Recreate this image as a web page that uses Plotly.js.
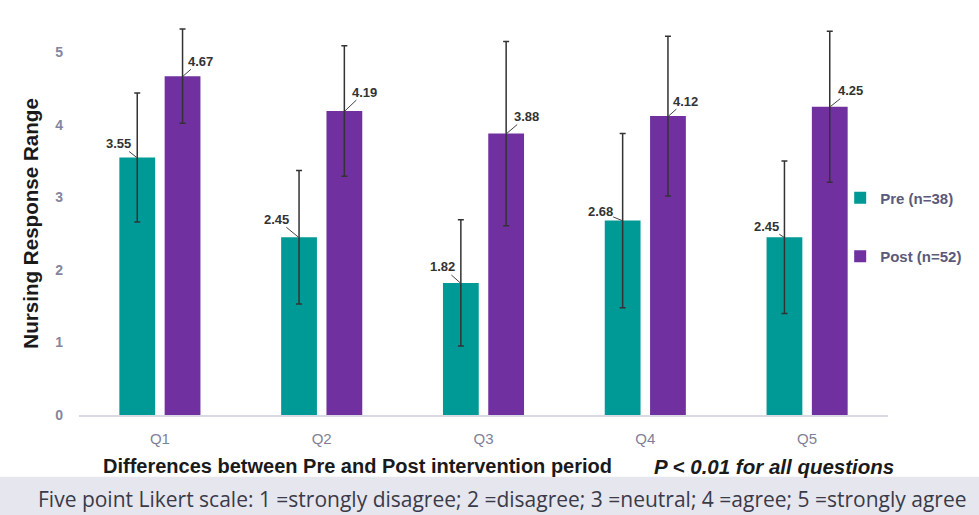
<!DOCTYPE html>
<html><head><meta charset="utf-8">
<script src="https://cdn.plot.ly/plotly-3.0.1.min.js"></script>
<style>html,body{margin:0;padding:0;background:#fff;}#chart{width:979px;height:515px;}</style>
</head><body><div id="chart"></div>
<script>
const categories = ['Q1','Q2','Q3','Q4','Q5'];
const preName = 'Pre (n=38)';
const postName = 'Post (n=52)';
const preValues = [3.55, 2.45, 1.82, 2.68, 2.45];
const postValues = [4.67, 4.19, 3.88, 4.12, 4.25];
const preErrors = [0.89, 0.92, 0.87, 1.20, 1.05];
const postErrors = [0.65, 0.90, 1.27, 1.10, 1.04];
const yTicks = [0, 1, 2, 3, 4, 5];
const xTitle = 'Differences between Pre and Post intervention period';
const pNote = 'P < 0.01 for all questions';
const footNote = 'Five point Likert scale: 1 =strongly disagree; 2 =disagree; 3 =neutral; 4 =agree; 5 =strongly agree';
const yTitle = 'Nursing Response Range';

// label offsets (pixels) for the leader-line labels
const preLabelOffsets = [[-18,-14],[-22,-18],[-18,-16],[-22,-9],[-17,-11]];
const postLabelOffsets = [[17,-15],[20,-19],[20,-17],[17,-15],[20,-16]];

const teal = '#009a96', purple = '#7030a0';
const errStyle = {type:'data', visible:true, color:'#333333', thickness:1.5, width:3};

const traces = [
  {type:'bar', name:preName, x:categories, y:preValues, marker:{color:teal},
   error_y:Object.assign({array:preErrors}, errStyle), legendgroup:'a', hoverinfo:'y'},
  {type:'bar', name:postName, x:categories, y:postValues, marker:{color:purple},
   error_y:Object.assign({array:postErrors}, errStyle), legendgroup:'b', hoverinfo:'y'}
];

const barShift = 0.143;
const labelFont = {family:'Liberation Sans, Arial', size:13, color:'#333', weight:'bold'};
const annotations = [];
preValues.forEach((v,i)=>{
  annotations.push({x:i-barShift, y:v, xref:'x', yref:'y', text:v.toFixed(2), showarrow:true,
    arrowhead:0, arrowwidth:1, arrowcolor:'#444', ax:preLabelOffsets[i][0], ay:preLabelOffsets[i][1],
    font:labelFont, borderpad:0});
});
postValues.forEach((v,i)=>{
  annotations.push({x:i+barShift, y:v, xref:'x', yref:'y', text:v.toFixed(2), showarrow:true,
    arrowhead:0, arrowwidth:1, arrowcolor:'#444', ax:postLabelOffsets[i][0], ay:postLabelOffsets[i][1],
    font:labelFont, borderpad:0});
});
annotations.push({xref:'paper', yref:'paper', x:-0.0603, y:0.48, xanchor:'center', yanchor:'middle',
  textangle:-90, text:'<b>'+yTitle+'</b>', showarrow:false,
  font:{family:'Liberation Sans, Arial', size:20.6, color:'#1a1a1a'}});
annotations.push({xref:'paper', yref:'paper', x:0.344, y:-0.128, xanchor:'center', yanchor:'middle',
  text:'<b>'+xTitle+'</b>', showarrow:false, font:{family:'Liberation Sans, Arial', size:20, color:'#1a1a1a'}});
annotations.push({xref:'paper', yref:'paper', x:0.859, y:-0.128, xanchor:'center', yanchor:'middle',
  text:'<b><i>'+pNote+'</i></b>', showarrow:false, font:{family:'Liberation Sans, Arial', size:20.5, color:'#1a1a1a'}});
annotations.push({xref:'paper', yref:'paper', x:0.524, y:-0.211, xanchor:'center', yanchor:'middle',
  text:footNote, showarrow:false, font:{family:'Open Sans, Noto Sans', size:21, color:'#3a3a48'}});

const layout = {
  width:979, height:515,
  margin:{l:79, r:88, t:16, b:100},
  paper_bgcolor:'#ffffff', plot_bgcolor:'#ffffff',
  barmode:'group', bargap:0.44, bargroupgap:0.21,
  font:{family:'Liberation Sans, Arial', color:'#333'},
  xaxis:{type:'category', showgrid:false, showline:true, linecolor:'#d9d9e3', linewidth:1.5,
    ticks:'', tickfont:{size:15, color:'#7f7f99'}, zeroline:false, ticklabelstandoff:9},
  yaxis:{range:[0,5.5], tickvals:yTicks, showgrid:false, zeroline:false, showline:false, ticks:'',
    tickfont:{size:14, color:'#8585a0', weight:'bold'}, ticklabelstandoff:15},
  showlegend:true,
  legend:{x:0.9409, xanchor:'left', y:0.585, yanchor:'top', tracegroupgap:36,
    font:{size:15, color:'#5a5a7a', weight:'bold'}, bgcolor:'rgba(0,0,0,0)'},
  shapes:[{type:'rect', xref:'paper', yref:'paper', x0:-0.2, x1:1.2, y0:-0.2506, y1:-0.155,
    fillcolor:'#e6e6ee', line:{width:0}, layer:'below'}],
  annotations:annotations
};
Plotly.newPlot('chart', traces, layout, {displayModeBar:false, staticPlot:true});
</script></body></html>
